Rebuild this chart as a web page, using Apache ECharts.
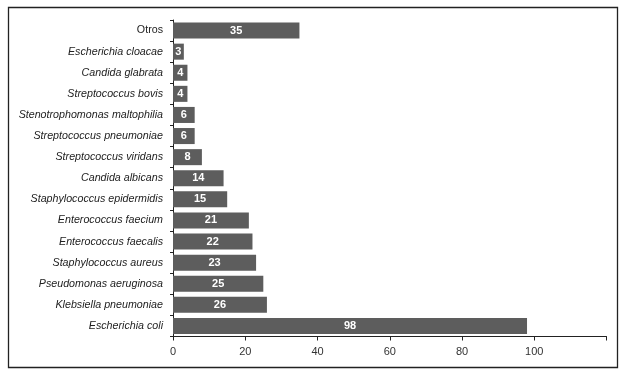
<!DOCTYPE html>
<html><head><meta charset="utf-8">
<script src="https://cdn.jsdelivr.net/npm/echarts@6/dist/echarts.min.js"></script>
<style>html,body{margin:0;padding:0;background:#fff}#c{width:624px;height:376px}</style>
</head><body><div id="c"></div>
<script>
const categories = ["Otros","Escherichia cloacae","Candida glabrata","Streptococcus bovis","Stenotrophomonas maltophilia","Streptococcus pneumoniae","Streptococcus viridans","Candida albicans","Staphylococcus epidermidis","Enterococcus faecium","Enterococcus faecalis","Staphylococcus aureus","Pseudomonas aeruginosa","Klebsiella pneumoniae","Escherichia coli"];
const values = [35,3,4,4,6,6,8,14,15,21,22,23,25,26,98];
const xTicks = [0,20,40,60,80,100];

const chart = echarts.init(document.getElementById('c'), null, {renderer:'canvas'});
chart.setOption({
  animation:false,
  textStyle:{fontFamily:'Liberation Sans, Arial, sans-serif'},
  graphic:[{type:'rect',shape:{x:8.5,y:7.5,width:609,height:360},style:{fill:'none',stroke:'#222',lineWidth:1.3},silent:true}],
  grid:{left:173,right:17.5,top:20,bottom:39.5,containLabel:false},
  xAxis:{type:'value',min:0,max:120,interval:20,
    axisLine:{show:true,lineStyle:{color:'#222',width:1}},
    axisTick:{show:true,length:4,lineStyle:{color:'#222'}},
    splitLine:{show:false},
    axisLabel:{color:'#333',fontSize:11,margin:10,formatter:v=>xTicks.indexOf(v)>=0?String(v):''}},
  yAxis:{type:'category',data:categories,inverse:true,
    axisLine:{show:true,lineStyle:{color:'#222',width:1}},
    axisTick:{show:true,length:3,lineStyle:{color:'#222'}},
    axisLabel:{color:'#222',fontSize:10.7,fontStyle:'italic',margin:10,
      formatter:v=>v==='Otros'?'{n|Otros}':v,
      rich:{n:{fontStyle:'normal',fontSize:10.7,color:'#222'}}}},
  series:[{type:'bar',data:values,barCategoryGap:'24%',
    itemStyle:{color:'#5d5d5d'},
    label:{show:true,position:'inside',color:'#fff',fontSize:11,fontWeight:'bold'}}]
});
</script></body></html>
